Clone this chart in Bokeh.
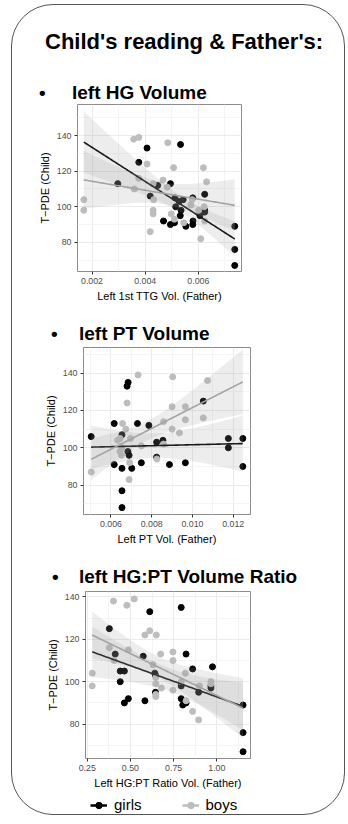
import numpy as np
from bokeh.plotting import figure
from bokeh.layouts import column
from bokeh.models import Div, Range1d, FixedTicker, PrintfTickFormatter, Legend, LegendItem
from bokeh.embed import file_html
from bokeh.resources import INLINE

FONT = "Liberation Sans"
GIRL = "#000000"
BOY = "#bdbdbd"
GIRL_LINE = "#1a1a1a"
BOY_LINE = "#a3a3a3"
W = 334

# ---------------- data ----------------
title_text = "Child's reading & Father's:"
headings = ["left HG Volume", "left PT Volume", "left HG:PT Volume Ratio"]
y_label = "T\u2212PDE (Child)"
x_labels = ["Left 1st TTG Vol. (Father)", "Left PT Vol. (Father)", "Left HG:PT Ratio Vol. (Father)"]
legend_labels = ["girls", "boys"]

y_ticks = [80, 100, 120, 140]

# panel 1: left HG volume
hg_girls_x = [0.00297, 0.00407, 0.00376, 0.00419, 0.00447, 0.00469, 0.00495, 0.00495, 0.00510,
              0.00512, 0.00515, 0.00528, 0.00533, 0.00535, 0.00532, 0.00543, 0.00553, 0.00579,
              0.00580, 0.00579, 0.00606, 0.00624, 0.00624, 0.00624, 0.00737, 0.00737, 0.00737]
hg_girls_y = [113, 133, 125, 106, 112, 92, 113, 90, 91, 105, 100, 103, 135, 98, 95, 104, 89, 90,
              92, 105, 95, 107, 98, 97, 89, 76, 67]
hg_boys_x = [0.00169, 0.00169, 0.00357, 0.00376, 0.00376, 0.00359, 0.00407, 0.00419, 0.00430,
             0.00432, 0.00430, 0.00430, 0.00467, 0.00485, 0.00483, 0.00507, 0.00498, 0.00510,
             0.00545, 0.00572, 0.00577, 0.00609, 0.00619, 0.00631, 0.00601, 0.00624, 0.00622]
hg_boys_y = [104, 98, 138, 139, 116, 110, 124, 86, 113, 104, 98, 96, 115, 136, 111, 122, 96, 93,
             91, 101, 104, 82, 122, 114, 98, 92, 100]
hg_x_ticks = [0.002, 0.004, 0.006]

# panel 2: left PT volume
pt_girls_x = [0.00503, 0.00616, 0.00616, 0.00654, 0.00654, 0.00654, 0.00654, 0.00684, 0.00679,
              0.00683, 0.00689, 0.00702, 0.00730, 0.00749, 0.00786, 0.00824, 0.00824, 0.00855,
              0.00887, 0.00965, 0.01053, 0.01176, 0.01176, 0.01247, 0.01247]
pt_girls_y = [106, 113, 91, 107, 89, 77, 68, 135, 133, 98, 96, 89, 113, 92, 112, 103, 95, 104,
              91, 92, 125, 105, 100, 105, 90]
pt_boys_x = [0.00503, 0.00633, 0.00645, 0.00657, 0.00673, 0.00679, 0.00696, 0.00689, 0.00654,
             0.00644, 0.00652, 0.00692, 0.00733, 0.00749, 0.00825, 0.00858, 0.00858, 0.00900,
             0.00903, 0.00900, 0.00936, 0.00965, 0.00965, 0.01053, 0.01074]
pt_boys_y = [87, 104, 105, 113, 110, 124, 105, 83, 100, 98, 96, 92, 139, 101, 94, 114, 102, 122,
             138, 110, 108, 122, 115, 116, 136]
pt_x_ticks = [0.006, 0.008, 0.010, 0.012]

# panel 3: left HG:PT volume ratio
ratio_girls_x = [0.378, 0.412, 0.441, 0.465, 0.441, 0.465, 0.488, 0.574, 0.584, 0.612, 0.641,
                 0.645, 0.645, 0.794, 0.794, 0.794, 0.803, 0.822, 0.822, 0.860, 0.895, 0.966,
                 0.966, 0.975, 1.152, 1.152, 1.152]
ratio_girls_y = [125, 113, 105, 105, 100, 90, 92, 112, 91, 133, 104, 103, 95, 135, 98, 92, 89, 90,
                 113, 106, 95, 97, 98, 107, 89, 76, 67]
ratio_boys_x = [0.279, 0.279, 0.402, 0.378, 0.406, 0.479, 0.522, 0.488, 0.584, 0.612, 0.650,
                0.631, 0.647, 0.647, 0.647, 0.647, 0.675, 0.679, 0.746, 0.746, 0.746, 0.794,
                0.818, 0.822, 0.860, 0.895, 0.899, 0.966, 0.966]
ratio_boys_y = [104, 98, 138, 116, 110, 136, 139, 115, 122, 124, 122, 108, 102, 99, 94, 93, 113,
                97, 114, 110, 96, 100, 104, 91, 86, 82, 98, 100, 99]
ratio_x_ticks = [0.25, 0.50, 0.75, 1.00]


# ---------------- helpers ----------------
def smooth(x, y, xs):
    x = np.asarray(x, float)
    y = np.asarray(y, float)
    n = len(x)
    b, a = np.polyfit(x, y, 1)
    yhat = a + b * xs
    res = y - (a + b * x)
    s = np.sqrt((res ** 2).sum() / (n - 2))
    sxx = ((x - x.mean()) ** 2).sum()
    se = s * np.sqrt(1.0 / n + (xs - x.mean()) ** 2 / sxx)
    t = 2.06
    return yhat, yhat - t * se, yhat + t * se


def minor_between(ticks):
    step = ticks[1] - ticks[0]
    out = [ticks[0] - step / 2]
    for t in ticks:
        out.append(t + step / 2)
    return out


def panel(gx, gy, bx, by, xr, yr, xt, fmt, xlabel, left, right, height, bottom):
    p = figure(width=W, height=height, x_range=Range1d(*xr), y_range=Range1d(*yr),
               output_backend="svg", toolbar_location=None,
               min_border_left=left, min_border_right=right,
               min_border_top=5, min_border_bottom=bottom)
    p.frame_align = False
    p.border_fill_color = None
    p.background_fill_color = "white"
    p.outline_line_color = "#8c8c8c"
    p.outline_line_width = 1
    p.xaxis.ticker = FixedTicker(ticks=xt, minor_ticks=minor_between(xt))
    p.yaxis.ticker = FixedTicker(ticks=y_ticks, minor_ticks=minor_between(y_ticks))
    p.xaxis.formatter = PrintfTickFormatter(format=fmt)
    p.xaxis.axis_label = xlabel
    p.yaxis.axis_label = y_label
    for ax in p.axis:
        ax.axis_line_color = None
        ax.major_tick_line_color = "#333333"
        ax.major_tick_out = 3
        ax.major_tick_in = 0
        ax.minor_tick_line_color = None
        ax.major_label_text_font = FONT
        ax.major_label_text_font_size = "8.8px"
        ax.major_label_text_color = "#4d4d4d"
        ax.major_label_standoff = 2
        ax.axis_label_text_font = FONT
        ax.axis_label_text_font_size = "11px"
        ax.axis_label_text_font_style = "normal"
        ax.axis_label_text_color = "#000000"
        ax.axis_label_standoff = 3
    p.grid.grid_line_color = "#ebebeb"
    p.grid.minor_grid_line_color = "#f4f4f4"

    p.scatter(gx, gy, size=6, color=GIRL)
    p.scatter(bx, by, size=6, color=BOY)
    allx = list(gx) + list(bx)
    xs = np.linspace(min(allx), max(allx), 120)
    for xx, yy, lc in ((gx, gy, GIRL_LINE), (bx, by, BOY_LINE)):
        yh, lo, hi = smooth(xx, yy, xs)
        p.varea(x=xs, y1=lo, y2=hi, fill_color="#999999", fill_alpha=0.18)
        p.line(xs, yh, line_color=lc, line_width=1.6)
    return p


def heading_div(text, height, top, bullet_left, text_left, size=19):
    html = (
        f'<div style="position:relative;width:{W}px;height:{height}px;'
        f"font-family:'{FONT}';font-weight:bold;font-size:{size}px;color:#000;\">"
        + (f'<span style="position:absolute;left:{bullet_left}px;top:{top}px;">\u2022</span>'
           if bullet_left is not None else "")
        + f'<span style="position:absolute;left:{text_left}px;top:{top}px;white-space:nowrap;">{text}</span></div>'
    )
    return Div(text=html, width=W, height=height, margin=0)


title = heading_div(title_text.replace("&", "&amp;"), 64, 21, None, 33, size=22)
h1 = heading_div(headings[0], 30, 10, 27, 60)
p1 = panel(hg_girls_x, hg_girls_y, hg_boys_x, hg_boys_y, (0.001454, 0.007624),
           (63.6, 157.5), hg_x_ticks, "%.3f", x_labels[0], 65, 103, 205, 32)
h2 = heading_div(headings[1], 38, 16, 39, 67)
p2 = panel(pt_girls_x, pt_girls_y, pt_boys_x, pt_boys_y, (0.004652, 0.012847),
           (64.3, 153.7), pt_x_ticks, "%.3f", x_labels[1], 71, 94, 205, 32)
h3 = heading_div(headings[2], 39, 16, 40, 67)
p3 = panel(ratio_girls_x, ratio_girls_y, ratio_boys_x, ratio_boys_y, (0.240, 1.195),
           (63.8, 142.5), ratio_x_ticks, "%.2f", x_labels[2], 73, 94, 205, 33)

# legend strip (its renderers hold no drawable points, only the legend look)
lf = figure(width=W, height=25, x_range=Range1d(0, 1), y_range=Range1d(0, 1),
            output_backend="svg", toolbar_location=None, min_border=0)
lf.frame_align = False
lf.axis.visible = False
lf.grid.visible = False
lf.outline_line_color = None
lf.border_fill_color = None
lf.background_fill_color = None
nan = [float("nan")]
gl = lf.line(x=nan, y=nan, line_color=GIRL, line_width=2.5)
gp = lf.scatter(x=nan, y=nan, size=8, color=GIRL)
bl = lf.line(x=nan, y=nan, line_color=BOY, line_width=2.5)
bp = lf.scatter(x=nan, y=nan, size=8, color=BOY)
legend = Legend(items=[LegendItem(label=legend_labels[0], renderers=[gl, gp]),
                       LegendItem(label=legend_labels[1], renderers=[bl, bp])],
                orientation="horizontal", location=(78, 3),
                label_text_font=FONT, label_text_font_size="15px", label_text_color="#000000",
                label_standoff=7, glyph_width=17, glyph_height=16,
                spacing=40, padding=0, margin=0,
                border_line_color=None, background_fill_alpha=0)
lf.add_layout(legend, "center")

layout = column(title, h1, p1, h2, p2, h3, p3, lf, width=W, height=811, margin=(4, 0, 0, 11),
                styles={"border": "1.5px solid #555555", "border-radius": "42px",
                        "box-sizing": "border-box"})

open("out.html", "w").write(file_html(layout, INLINE, title="chart"))
